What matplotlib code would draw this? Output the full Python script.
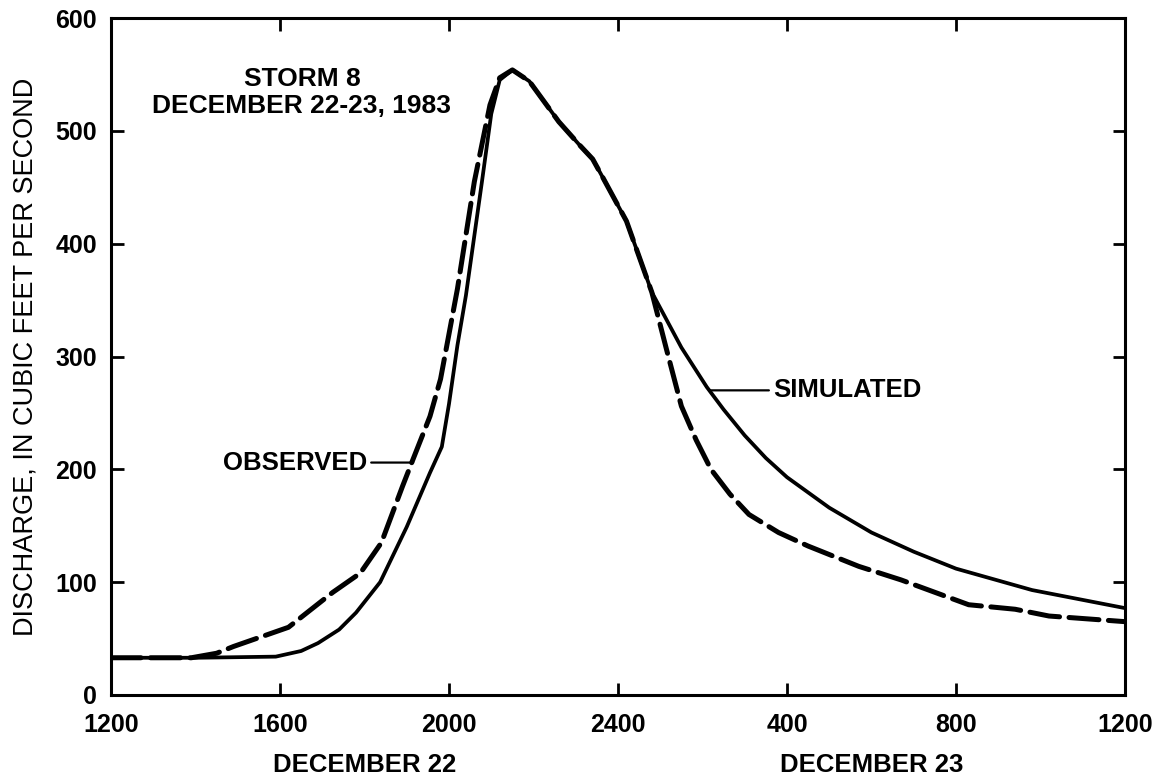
import matplotlib
matplotlib.use("Agg")
import matplotlib.pyplot as plt
from matplotlib.ticker import FixedLocator

# Hours after 1200 on December 22
sim_hours = [0, 2, 3.9, 4.5, 4.9, 5.4, 5.8, 6.37, 7.0, 7.55, 7.83, 8.0, 8.2, 8.4,
             8.78, 9.0, 9.2, 9.5, 9.9, 10.6, 11.1, 11.4, 11.65, 12.2, 12.8, 13.0,
             13.5, 14.1, 14.5, 15.0, 15.5, 16.0, 17.0, 18.0, 19.0, 20.0, 21.8, 24]
sim_cfs = [33, 33, 34, 39, 46, 58, 73, 100, 149, 197, 220, 258, 310, 354,
           455, 515, 545, 554, 544, 508, 487, 475, 458, 420, 357, 343,
           308, 273, 253, 230, 210, 193, 166, 144, 127, 112, 93, 77]

obs_hours = [0, 1.9, 2.5, 2.9, 4.2, 5.25, 5.9, 6.4, 6.9, 7.15, 7.55, 7.8, 8.2,
             8.6, 8.97, 9.2, 9.5, 9.9, 10.6, 11.1, 11.4, 11.65, 12.2, 12.8,
             13.15, 13.5, 13.85, 14.2, 14.65, 15.1, 15.8, 16.5, 17.7, 18.7,
             20.3, 21.4, 22.2, 24]
obs_cfs = [33, 33, 37, 43, 60, 91, 108, 135, 185, 209, 247, 280, 360,
           455, 523, 547, 554, 544, 508, 487, 475, 458, 420, 357,
           306, 256, 226, 200, 178, 160, 144, 132, 114, 102,
           80, 76, 70, 65]

x_tick_pos = [0, 4, 8, 12, 16, 20, 24]
x_tick_labels = ["1200", "1600", "2000", "2400", "400", "800", "1200"]
y_ticks = [0, 100, 200, 300, 400, 500, 600]

title_text = "STORM 8\nDECEMBER 22-23, 1983"
ylabel_text = "DISCHARGE, IN CUBIC FEET PER SECOND"
day_labels = ["DECEMBER 22", "DECEMBER 23"]
day_label_pos = [6, 18]

plt.rcParams['font.family'] = ['Liberation Sans', 'DejaVu Sans']

fig = plt.figure(figsize=(11.59, 7.84), dpi=100)
ax = fig.add_axes([111/1159, 1 - 695/784, (1125-111)/1159, (695-18)/784])

ax.plot(sim_hours, sim_cfs, color='black', lw=2.7, solid_capstyle='round',
        solid_joinstyle='round')
ax.plot(obs_hours, obs_cfs, color='black', lw=3.6,
        linestyle=(0, (6.0, 1.9)), dash_capstyle='round', dash_joinstyle='round')

ax.set_xlim(0, 24)
ax.set_ylim(0, 600)

for s in ax.spines.values():
    s.set_linewidth(2.2)

ax.set_xticks(x_tick_pos)
ax.set_xticklabels(x_tick_labels, fontsize=18, fontweight='bold')
ax.set_yticks(y_ticks)
ax.set_yticklabels([str(v) for v in y_ticks], fontsize=18, fontweight='bold')
ax.xaxis.set_minor_locator(FixedLocator([12]))
ax.tick_params(axis='x', which='major', direction='in', length=9, width=2,
               top=True, bottom=True, pad=13)
ax.tick_params(axis='x', which='minor', direction='in', length=24, width=2,
               top=True, bottom=True)
ax.tick_params(axis='y', which='major', direction='in', length=9, width=2,
               left=True, right=True, pad=10)

ax.set_ylabel(ylabel_text, fontsize=19.5, labelpad=12)

ax.text(4.52, 534, title_text, ha='center', va='center', fontsize=19,
        fontweight='bold', linespacing=1.2)

# Annotations
ax.annotate("OBSERVED", xy=(7.15, 206), xytext=(6.06, 206),
            ha='right', va='center', fontsize=18.5, fontweight='bold',
            arrowprops=dict(arrowstyle='-', color='black', lw=1.6,
                            shrinkA=1, shrinkB=0))
ax.annotate("SIMULATED", xy=(14.18, 270), xytext=(15.67, 270),
            ha='left', va='center', fontsize=18.5, fontweight='bold',
            arrowprops=dict(arrowstyle='-', color='black', lw=1.6,
                            shrinkA=1, shrinkB=0))

for lab, pos in zip(day_labels, day_label_pos):
    ax.text(pos, -0.1034, lab, transform=ax.get_xaxis_transform(),
            ha='center', va='center', fontsize=18.5, fontweight='bold')

fig.savefig("out.png", dpi=100)
